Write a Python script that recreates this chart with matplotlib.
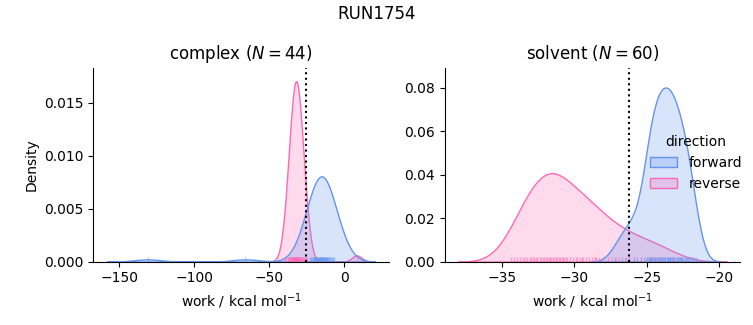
import numpy as np
import matplotlib
matplotlib.use("Agg")
import matplotlib.pyplot as plt
import pandas as pd
import seaborn as sns

# work values (kcal/mol)
complex_forward = [-131.0, -66.0,
                   -23.2, -22.4,
                   -21.6, -21.0, -20.5, -20.1,
                   -19.8, -19.4, -19.0, -18.7, -18.4, -18.1,
                   -17.8, -17.5, -17.1, -16.8, -16.6, -16.3, -16.1,
                   -15.8, -15.5, -15.2, -15.0, -14.7, -14.4, -14.1,
                   -13.8, -13.4, -13.1, -12.8, -12.5, -12.2,
                   -11.8, -11.4, -11.0, -10.6, -10.2,
                   -9.6, -8.9, -8.3,
                   -7.5, -6.7]
complex_reverse = [-39.6, -38.7,
                   -37.8, -37.2, -36.7, -36.2,
                   -35.8, -35.4, -35.1, -34.8, -34.6, -34.3, -34.1,
                   -33.9, -33.6, -33.4, -33.2, -33.0, -32.8, -32.6, -32.4, -32.2, -32.1,
                   -31.9, -31.6, -31.4, -31.1, -30.9, -30.7, -30.5, -30.3, -30.1,
                   -29.7, -29.3, -29.0, -28.7, -28.4, -28.1,
                   -27.6, -26.9, -26.3,
                   -25.6, -24.8,
                   8.2]
solvent_forward = [-27.2, -26.7, -26.4, -26.2, -25.9, -25.7,
                   -25.4, -25.2, -25.05,
                   -24.95, -24.85, -24.8, -24.75, -24.7, -24.65, -24.6, -24.55,
                   -24.45, -24.4, -24.35, -24.3, -24.2, -24.15, -24.1, -24.05,
                   -23.95, -23.9, -23.85, -23.8, -23.75, -23.7, -23.6, -23.55, -23.5,
                   -23.45, -23.4, -23.35, -23.3, -23.25, -23.2, -23.15, -23.1,
                   -22.95, -22.9, -22.85, -22.75, -22.7, -22.65, -22.6, -22.55,
                   -22.45, -22.35, -22.3, -22.2, -22.1, -22.05,
                   -21.95, -21.85, -21.7, -21.55]
solvent_reverse = [-34.4, -34.2, -34.0, -33.8, -33.6,
                   -33.4, -33.3, -33.1, -33.0, -32.9, -32.8, -32.7, -32.6,
                   -32.4, -32.3, -32.2, -32.1, -32.0, -31.9, -31.8, -31.7, -31.6, -31.5,
                   -31.4, -31.3, -31.2, -31.1, -31.0, -30.9, -30.8, -30.7, -30.6, -30.5,
                   -30.3, -30.1, -29.9, -29.8, -29.6, -29.5, -29.4,
                   -29.2, -29.0, -28.8, -28.6, -28.6, -28.5,
                   -28.3, -28.0, -27.7, -27.4, -27.1,
                   -26.9, -26.5, -26.2,
                   -25.9, -25.4, -24.9,
                   -24.5, -24.0, -23.1]

# BAR estimates (dotted lines)
delta_f = {"complex": -25.3, "solvent": -26.25}
phases = ["complex", "solvent"]

rows = []
for phase, fwd, rev in [("complex", complex_forward, complex_reverse),
                        ("solvent", solvent_forward, solvent_reverse)]:
    rows += [(phase, "forward", w) for w in fwd]
    rows += [(phase, "reverse", w) for w in rev]
df = pd.DataFrame(rows, columns=["phase", "direction", "work"])

g = sns.displot(data=df, x="work", hue="direction", col="phase", kind="kde",
                fill=True, rug=True, palette=["cornflowerblue", "hotpink"],
                rug_kws=dict(alpha=0.5),
                facet_kws=dict(sharex=False, sharey=False))

fig = g.figure
fig.set_size_inches(7.53, 3.25)
fig.subplots_adjust(left=0.124, right=0.983, bottom=0.195, top=0.792, wspace=0.19)

ylims = {"complex": (0, 0.0183), "solvent": (0, 0.0892)}
for ax, phase in zip(g.axes.flat, phases):
    n = len(df[(df.phase == phase) & (df.direction == "forward")])
    ax.axvline(delta_f[phase], color="k", ls=":", lw=1.5)
    ax.set_title(f"{phase} ($N = {n}$)", fontsize=12)
    ax.set_xlabel("work / kcal mol$^{-1}$")
    ax.set_ylim(*ylims[phase])

g.axes.flat[0].set_ylabel("Density")
sns.move_legend(g, "center left", bbox_to_anchor=(0.846, 0.499), frameon=False)
fig.suptitle("RUN1754", fontsize=12, y=0.985)

fig.savefig("out.png", dpi=100)
